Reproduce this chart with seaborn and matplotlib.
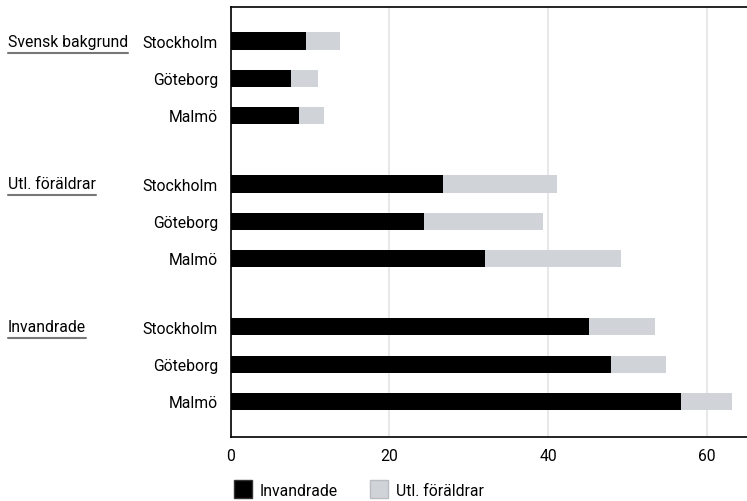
import pandas as pd
import seaborn as sns
import matplotlib.pyplot as plt
from matplotlib.lines import Line2D
import matplotlib.transforms as mtransforms

# ====== DATA ======
groups = ["Svensk bakgrund", "Utl. föräldrar", "Invandrade"]
cities = ["Stockholm", "Göteborg", "Malmö"]
invandrade = [9.5, 7.6, 8.6,
              26.8, 24.4, 32.1,
              45.2, 47.9, 56.7]
utl_foraldrar = [4.3, 3.4, 3.2,
                 14.3, 15.0, 17.1,
                 8.3, 6.9, 6.4]
legend_labels = ["Invandrade", "Utl. föräldrar"]

BLACK = "#000000"
GREY = "#d0d3d8"

# ====== LAYOUT OF ROWS ======
gap = 0.85
rows = []
for gi, g in enumerate(groups):
    for ci, c in enumerate(cities):
        k = gi * len(cities) + ci
        rows.append({"group": g, "city": c,
                     "pos": gi * (len(cities) + gap) + ci,
                     "inv": invandrade[k],
                     "total": invandrade[k] + utl_foraldrar[k]})
df = pd.DataFrame(rows)

# ====== STYLE ======
sns.set_style("white")
plt.rcParams["font.family"] = ["Roboto", "DejaVu Sans"]
plt.rcParams["text.color"] = "black"
plt.rcParams["xtick.color"] = "black"
plt.rcParams["ytick.color"] = "black"
FS = 11.3

fig = plt.figure(figsize=(7.47, 5.02), dpi=100)
ax = fig.add_axes([230.5 / 747, 1 - 437.5 / 502, 1 - 230.5 / 747, (437.5 - 7.5) / 502])

# grey (total) first, black on top
sns.barplot(data=df, x="total", y="pos", orient="h", native_scale=True,
            width=0.46, color=GREY, saturation=1, linewidth=0, ax=ax, zorder=2)
sns.barplot(data=df, x="inv", y="pos", orient="h", native_scale=True,
            width=0.46, color=BLACK, saturation=1, linewidth=0, ax=ax, zorder=3)

ax.set_xlim(0, 65.05)
ax.set_ylim(df["pos"].max() + 0.95, -0.93)
ax.set_xticks([0, 20, 40, 60])
ax.xaxis.grid(True, color="#e8e8e8", linewidth=1.5, zorder=0)
ax.set_axisbelow(True)
ax.set_yticks(df["pos"], df["city"])
ax.tick_params(axis="y", length=0, pad=9, labelsize=FS)
ax.tick_params(axis="x", length=0, pad=8, labelsize=FS)
ax.set_xlabel("")
ax.set_ylabel("")

for side in ["top", "left", "bottom"]:
    ax.spines[side].set_visible(True)
    ax.spines[side].set_color("black")
    ax.spines[side].set_linewidth(1.2)
ax.spines["right"].set_visible(False)

# ====== GROUP LABELS (underlined) ======
trans = mtransforms.blended_transform_factory(fig.transFigure, ax.transData)
labels = []
for gi, g in enumerate(groups):
    y = df.loc[df["group"] == g, "pos"].min()
    t = fig.text(8 / 747, y, g, transform=trans, ha="left", va="center", fontsize=FS)
    labels.append(t)

fig.canvas.draw()
for t in labels:
    bb = t.get_window_extent()
    x0, y0 = fig.transFigure.inverted().transform((bb.x0, bb.y0 - 4))
    x1, _ = fig.transFigure.inverted().transform((bb.x1, bb.y0 - 4))
    fig.add_artist(Line2D([x0, x1], [y0, y0], transform=fig.transFigure,
                          color="#777777", linewidth=1.5))

# ====== LEGEND ======
handles = [Line2D([], [], marker="s", linestyle="", markersize=13,
                  markerfacecolor=BLACK, markeredgecolor="#333333"),
           Line2D([], [], marker="s", linestyle="", markersize=13,
                  markerfacecolor=GREY, markeredgecolor="#b9bcc1")]
fig.legend(handles, legend_labels, loc="lower left", ncol=2, frameon=False,
           bbox_to_anchor=(219 / 747, -0.022), handletextpad=0.5,
           columnspacing=2.0, fontsize=FS, handlelength=1.2)

plt.savefig("out.png", dpi=100)
plt.close()
